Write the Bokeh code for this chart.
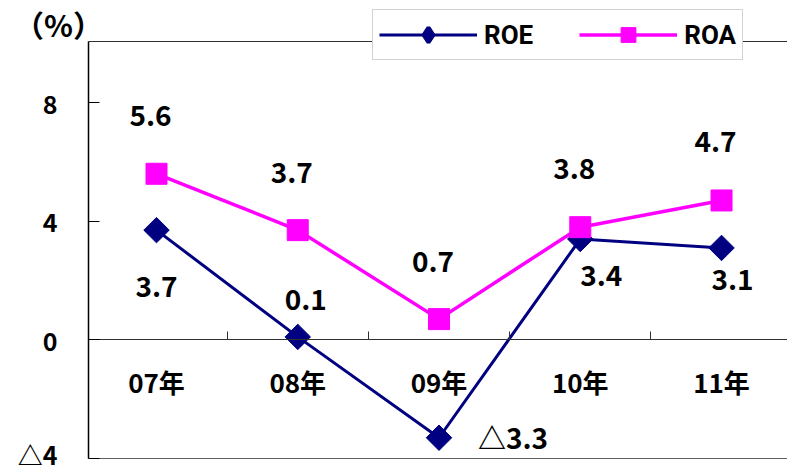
import math

from bokeh.core.properties import value
from bokeh.embed import file_html
from bokeh.models import (ColumnDataSource, FixedTicker, Label, Legend,
                          LegendItem, LinearAxis, Range1d)
from bokeh.plotting import figure
from bokeh.resources import INLINE

# ---- data -------------------------------------------------------------
years = ["07年", "08年", "09年", "10年", "11年"]
roe = [3.7, 0.1, -3.3, 3.4, 3.1]
roa = [5.6, 3.7, 0.7, 3.8, 4.7]
y_ticks = [-4, 0, 4, 8]
y_tick_labels = ["△4", "0", "4", "8"]

# label placement around each point (screen px, +y is down)
roe_dx = [0, 8, 74, 21, 11]
roe_dy = [56, -37, -1, 36, 32]
roa_dx = [-6, -6, -6, -6, -6]
roa_dy = [-58, -58, -58, -59, -59]


def fmt(v):
    return ("△" if v < 0 else "") + f"{abs(v):.1f}"


xs = list(range(len(years)))
src = ColumnDataSource(dict(
    x=xs, roe=roe, roa=roa,
    roe_txt=[fmt(v) for v in roe], roa_txt=[fmt(v) for v in roa],
    roe_dx=roe_dx, roe_dy=roe_dy, roa_dx=roa_dx, roa_dy=roa_dy,
))

NAVY = "#000080"
MAGENTA = "#FF00FF"
JP = "Noto Sans CJK JP"

# plot box in data units: left edge, top edge (frame fills the canvas so the
# legend and the unit caption can sit above / left of the plot box)
X_LEFT, X_RIGHT = -0.4814, 4.467
Y_MIN, Y_TOP = -4, 10.06

p = figure(
    width=787, height=471, output_backend="svg", toolbar_location=None,
    x_range=Range1d(-1.1044, X_RIGHT), y_range=Range1d(-4.438, 11.442),
    x_axis_location=None, y_axis_location=None,
    min_border_left=0, min_border_top=0, min_border_bottom=0,
    min_border_right=0,
)
p.grid.visible = False
p.outline_line_color = None
p.background_fill_color = "white"
p.border_fill_color = "white"


def edge_axis(loc, color):
    return LinearAxis(fixed_location=loc, bounds=(X_LEFT, X_RIGHT),
                      ticker=FixedTicker(ticks=[]), major_tick_in=0,
                      major_tick_out=0, minor_tick_in=0, minor_tick_out=0,
                      axis_line_color=color, axis_line_width=1)


# ---- value axis -------------------------------------------------------
ya = LinearAxis(fixed_location=X_LEFT, bounds=(Y_MIN, Y_TOP),
                ticker=FixedTicker(ticks=y_ticks),
                major_label_overrides={t: s for t, s in zip(y_ticks, y_tick_labels)},
                major_tick_in=11, major_tick_out=0,
                minor_tick_in=0, minor_tick_out=0,
                axis_line_width=1.5, axis_line_color="black",
                major_tick_line_color="black", major_label_standoff=31,
                major_label_text_font=JP,
                major_label_text_font_style="bold",
                major_label_text_font_size="25px",
                major_label_text_color="black")
p.add_layout(ya, "left")

# top and bottom edges of the plot box
p.add_layout(edge_axis(Y_TOP, "#303030"), "above")
p.add_layout(edge_axis(Y_MIN, "#606060"), "below")

# zero line with category separators
bounds = [i + 0.5 for i in xs[:-1]]
zero_axis = LinearAxis(fixed_location=0, bounds=(X_LEFT, X_RIGHT),
                       ticker=FixedTicker(ticks=bounds),
                       major_label_overrides={b: "" for b in bounds},
                       major_tick_in=8, major_tick_out=0,
                       minor_tick_in=0, minor_tick_out=0,
                       axis_line_color="#303030",
                       major_tick_line_color="#303030")
p.add_layout(zero_axis, "below")

# category labels hanging below the zero line
cat_axis = LinearAxis(fixed_location=0, ticker=FixedTicker(ticks=xs),
                      major_label_overrides={x: s for x, s in zip(xs, years)},
                      major_tick_in=0, major_tick_out=0,
                      minor_tick_in=0, minor_tick_out=0,
                      axis_line_color=None, major_label_standoff=23,
                      major_label_text_font=JP,
                      major_label_text_font_style="bold",
                      major_label_text_font_size="26px",
                      major_label_text_color="black")
p.add_layout(cat_axis, "below")

# ---- series -----------------------------------------------------------
roe_line = p.line("x", "roe", source=src, line_color=NAVY, line_width=3)
# small diamond under each ROE point; it serves as the ROE legend key
roe_key = p.scatter("x", "roe", source=src, marker="diamond", size=12,
                    fill_color=NAVY, line_color=NAVY, line_width=4)
roe_pts = p.scatter("x", "roe", source=src, marker="square",
                    angle=math.pi / 4, size=18, fill_color=NAVY,
                    line_color=NAVY)
roa_line = p.line("x", "roa", source=src, line_color=MAGENTA, line_width=3.5)
roa_pts = p.scatter("x", "roa", source=src, marker="square", size=21,
                    fill_color=MAGENTA, line_color=MAGENTA)

for col in ("roa", "roe"):
    p.text("x", col, text=f"{col}_txt", x_offset=f"{col}_dx",
           y_offset=f"{col}_dy", source=src, text_align="center",
           text_baseline="middle", text_font=value(JP),
           text_font_style="bold", text_font_size="28px", text_color="black")

# unit caption
p.add_layout(Label(x=58, y=448, x_units="screen", y_units="screen",
                   text="（%）", text_align="center", text_baseline="middle",
                   text_font=JP, text_font_style="bold",
                   text_font_size="30px", text_color="black"))

# ---- legend -----------------------------------------------------------
legend = Legend(
    items=[LegendItem(label="ROE", renderers=[roe_line, roe_key]),
           LegendItem(label="ROA", renderers=[roa_line, roa_pts])],
    orientation="horizontal", location=(372, 411),
    glyph_width=98, glyph_height=37, label_standoff=7, label_width=47,
    spacing=46, padding=6, margin=0,
    label_text_font="Roboto", label_text_font_style="bold",
    label_text_font_size="26px", label_text_color="black",
    border_line_color="#a8a8a8", border_line_width=1,
    background_fill_color="white", background_fill_alpha=1.0,
)
p.add_layout(legend, "center")

open("out.html", "w").write(file_html(p, INLINE))
